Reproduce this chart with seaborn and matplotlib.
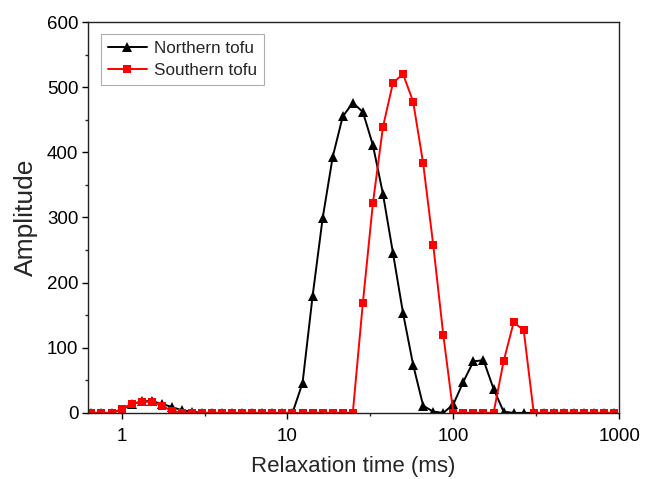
"""
T2 relaxation spectra of northern and southern tofu.
"""

import pandas as pd
import matplotlib
matplotlib.use("Agg")
import matplotlib.pyplot as plt
from matplotlib.ticker import FixedLocator, NullFormatter
import seaborn as sns

# relaxation times (ms), log-spaced inversion grid
T2_MS = [
    0.658, 0.756, 0.870, 1.000, 1.150, 1.322, 1.520, 1.748, 2.009, 2.310,
    2.656, 3.054, 3.511, 4.037, 4.642, 5.337, 6.136, 7.055, 8.111, 9.326,
    10.72, 12.33, 14.17, 16.30, 18.74, 21.54, 24.77, 28.48, 32.75, 37.65,
    43.29, 49.77, 57.22, 65.79, 75.65, 86.98, 100.0, 115.0, 132.2, 152.0,
    174.8, 200.9, 231.0, 265.6, 305.4, 351.1, 403.7, 464.2, 533.7, 613.6,
    705.5, 811.1, 932.6,
]

NORTHERN = [
    0, 0, 0, 5, 13, 18, 18, 14, 9, 4,
    2, 0, 0, 0, 0, 0, 0, 0, 0, 0,
    0, 46, 179, 299, 393, 455, 476, 462, 411, 336,
    245, 153, 74, 11, 2, 0, 13, 48, 79, 81,
    37, 2, 0, 0, 0, 0, 0, 0, 0, 0,
    0, 0, 0,
]

SOUTHERN = [
    0, 0, 0, 6, 14, 17, 17, 11, 3, 0,
    0, 0, 0, 0, 0, 0, 0, 0, 0, 0,
    0, 0, 0, 0, 0, 0, 0, 169, 322, 439,
    507, 520, 478, 383, 258, 120, 0, 0, 0, 0,
    0, 79, 139, 127, 0, 0, 0, 0, 0, 0,
    0, 0, 0,
]

SERIES = ["Northern tofu", "Southern tofu"]
COLORS = {"Northern tofu": "black", "Southern tofu": "#ff0000"}
MARKERS = {"Northern tofu": "^", "Southern tofu": "s"}
MARKER_SIZES = {"Northern tofu": 7.5, "Southern tofu": 6}

X_TICKS = [1, 10, 100, 1000]
X_MINOR = [3.162, 31.62, 316.2]
Y_TICKS = [0, 100, 200, 300, 400, 500, 600]
Y_MINOR = [50, 150, 250, 350, 450, 550]


def build_frame() -> pd.DataFrame:
    parts = []
    for name, values in zip(SERIES, [NORTHERN, SOUTHERN]):
        parts.append(pd.DataFrame({"T2": T2_MS, "Amplitude": values, "Sample": name}))
    return pd.concat(parts, ignore_index=True)


def plot_spectra(df: pd.DataFrame, output_path: str) -> None:
    sns.set_style("ticks")
    plt.rcParams["font.family"] = ["Liberation Sans", "DejaVu Sans"]

    fig = plt.figure(figsize=(6.47, 4.79), dpi=100)
    ax = fig.add_axes([0.136, 0.138, 0.821, 0.816])

    for name in SERIES:
        sns.lineplot(
            data=df[df["Sample"] == name], x="T2", y="Amplitude",
            color=COLORS[name], marker=MARKERS[name],
            markersize=MARKER_SIZES[name], markeredgewidth=0,
            linewidth=1.4, label=name, ax=ax,
        )

    ax.set_xscale("log")
    ax.set_xlim(0.627, 1000)
    ax.set_ylim(0, 600)

    ax.xaxis.set_major_locator(FixedLocator(X_TICKS))
    ax.set_xticklabels([str(t) for t in X_TICKS])
    ax.xaxis.set_minor_locator(FixedLocator(X_MINOR))
    ax.xaxis.set_minor_formatter(NullFormatter())
    ax.set_yticks(Y_TICKS)
    ax.yaxis.set_minor_locator(FixedLocator(Y_MINOR))

    ax.tick_params(which="major", direction="out", length=4, width=1,
                   labelsize=13.5, pad=3, colors="black")
    ax.tick_params(axis="x", which="major", pad=7)
    ax.tick_params(which="minor", direction="out", length=2.5, width=1)

    for spine in ax.spines.values():
        spine.set_visible(True)
        spine.set_color("#222222")
        spine.set_linewidth(1.0)

    ax.set_xlabel("Relaxation time (ms)", fontsize=16, labelpad=8)
    ax.set_ylabel("Amplitude", fontsize=19, labelpad=6)

    leg = ax.legend(loc="upper left", bbox_to_anchor=(0.008, 0.99),
                    fontsize=12.3, frameon=True, fancybox=False,
                    handlelength=2.3, handletextpad=0.4,
                    borderpad=0.4, labelspacing=0.4)
    leg.get_frame().set_edgecolor("#999999")
    leg.get_frame().set_linewidth(0.8)

    fig.savefig(output_path, dpi=100)
    plt.close(fig)


def main():
    df = build_frame()
    plot_spectra(df, "out.png")


if __name__ == "__main__":
    main()
